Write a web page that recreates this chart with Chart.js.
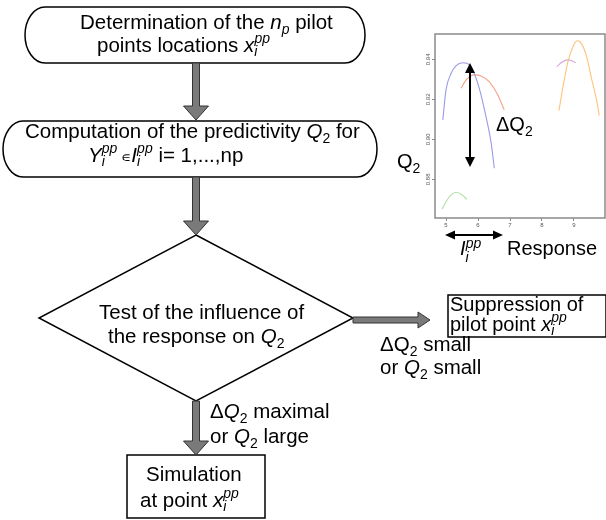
<!DOCTYPE html>
<html><head><meta charset="utf-8">
<script src="https://cdn.jsdelivr.net/npm/chart.js@4.4.0/dist/chart.umd.min.js"></script>
<style>
html,body{margin:0;padding:0;background:#fff;}
#wrap{position:relative;width:606px;height:520px;overflow:hidden;}
#inset{position:absolute;left:405px;top:28px;width:201px;height:205px;}
#flow{position:absolute;left:0;top:0;}
</style></head><body>
<div id="wrap">
<div id="inset"><canvas id="c"></canvas></div>
<svg id="flow" width="606" height="520" font-family="'Liberation Sans', Arial, Helvetica, sans-serif" font-size="20.5" fill="#000">
  <!-- shapes -->
  <path d="M45,7 H345 A20 28 0 0 1 345,63 H45 A20 28 0 0 1 45,7 Z" fill="none" stroke="#000" stroke-width="1.5"/>
  <path d="M23,121 H357 A20 28 0 0 1 357,177 H23 A20 28 0 0 1 23,121 Z" fill="none" stroke="#000" stroke-width="1.5"/>
  <polygon points="196,235 353,318 196,401 39,318" fill="none" stroke="#000" stroke-width="1.5"/>
  <rect x="448" y="295" width="158" height="42" fill="none" stroke="#000" stroke-width="1.5"/>
  <rect x="127" y="455" width="138" height="63" fill="none" stroke="#000" stroke-width="1.5"/>
  <!-- gray arrows -->
  <polygon points="192.5,63 199.5,63 199.5,106 208.5,106 196,120 183.5,106 192.5,106" fill="#7a7a7a" stroke="#333" stroke-width="1"/>
  <polygon points="192.5,177 199.5,177 199.5,221 208.5,221 196,235 183.5,221 192.5,221" fill="#7a7a7a" stroke="#333" stroke-width="1"/>
  <polygon points="353,317 418,317 418,312 430,320 418,328 418,323 353,323" fill="#7a7a7a" stroke="#333" stroke-width="1"/>
  <polygon points="192.5,401 199.5,401 199.5,441 208.5,441 196,455 183.5,441 192.5,441" fill="#7a7a7a" stroke="#333" stroke-width="1"/>
  <!-- inset black arrows -->
  <line x1="470" y1="70" x2="470" y2="160" stroke="#000" stroke-width="2"/>
  <polygon points="470,63 465,73 475,73" fill="#000"/>
  <polygon points="470,167 465,157 475,157" fill="#000"/>
  <line x1="452" y1="235" x2="496" y2="235" stroke="#000" stroke-width="2"/>
  <polygon points="445,235 455,230.5 455,239.5" fill="#000"/>
  <polygon points="503,235 493,230.5 493,239.5" fill="#000"/>
  <!-- texts -->
  <text x="80" y="29">Determination of the <tspan font-style="italic">n</tspan><tspan font-style="italic" font-size="14" dy="5">p</tspan><tspan dy="-5"> pilot</tspan></text>
  <text x="97" y="52">points locations <tspan font-style="italic">x</tspan><tspan font-style="italic" font-size="14" dy="4">i</tspan><tspan font-style="italic" font-size="14" dx="-3" dy="-13">pp</tspan></text>
  <text x="25" y="138">Computation of the predictivity <tspan font-style="italic">Q</tspan><tspan font-size="14" dy="5">2</tspan><tspan dy="-5"> for</tspan></text>
  <text x="88" y="162"><tspan font-style="italic">Y</tspan><tspan font-style="italic" font-size="14" dy="4">i</tspan><tspan font-style="italic" font-size="14" dx="-3" dy="-13">pp</tspan><tspan font-size="14" dy="9"> ∊</tspan><tspan font-style="italic">I</tspan><tspan font-style="italic" font-size="14" dy="4">i</tspan><tspan font-style="italic" font-size="14" dx="-3" dy="-13">pp</tspan><tspan dy="9"> i= 1,...,np</tspan></text>
  <text x="99" y="319">Test of the influence of</text>
  <text x="108" y="343">the response on <tspan font-style="italic">Q</tspan><tspan font-size="14" dy="5">2</tspan></text>
  <text x="450" y="311" font-size="20">Suppression of</text>
  <text x="450" y="331" font-size="20">pilot point <tspan font-style="italic">x</tspan><tspan font-style="italic" font-size="14" dy="4">i</tspan><tspan font-style="italic" font-size="14" dx="-3" dy="-13">pp</tspan></text>
  <text x="380" y="351">ΔQ<tspan font-size="14" dy="5">2</tspan><tspan dy="-5"> small</tspan></text>
  <text x="380" y="374">or <tspan font-style="italic">Q</tspan><tspan font-size="14" dy="5">2</tspan><tspan dy="-5"> small</tspan></text>
  <text x="210" y="418">Δ<tspan font-style="italic">Q</tspan><tspan font-size="14" dy="5">2</tspan><tspan dy="-5"> maximal</tspan></text>
  <text x="210" y="443">or <tspan font-style="italic">Q</tspan><tspan font-size="14" dy="5">2</tspan><tspan dy="-5"> large</tspan></text>
  <text x="146" y="481">Simulation</text>
  <text x="140" y="507">at point <tspan font-style="italic">x</tspan><tspan font-style="italic" font-size="14" dy="4">i</tspan><tspan font-style="italic" font-size="14" dx="-3" dy="-13">pp</tspan></text>
  <text x="397" y="168" font-size="20">Q<tspan font-size="14" dy="5">2</tspan></text>
  <text x="496" y="131" font-size="20">ΔQ<tspan font-size="14" dy="5">2</tspan></text>
  <text x="460" y="255" font-size="20"><tspan font-style="italic">I</tspan><tspan font-style="italic" font-size="14" dy="7">i</tspan><tspan font-style="italic" font-size="14" dx="-3" dy="-14">pp</tspan></text>
  <text x="507" y="255" font-size="20">Response</text>
</svg>
</div>
<script>
// Inset: Q2 versus response for each pilot point
const xTicks = [5, 6, 7, 8, 9];
const yTicks = [0.88, 0.90, 0.92, 0.94];

const blueX  = [4.90, 5.00, 5.16, 5.31, 5.52, 5.65, 5.83, 6.04, 6.25, 6.41, 6.51];
const blueY  = [0.9097, 0.9247, 0.9330, 0.9367, 0.9383, 0.9380, 0.9347, 0.9255, 0.9113, 0.8982, 0.8855];
const redX   = [5.47, 5.63, 5.88, 6.09, 6.35, 6.62, 6.82];
const redY   = [0.9255, 0.9297, 0.9322, 0.9317, 0.9288, 0.9222, 0.9147];
const orangeX = [8.53, 8.67, 8.82, 8.98, 9.10, 9.24, 9.40, 9.55, 9.71, 9.79];
const orangeY = [0.9143, 0.9276, 0.9393, 0.9468, 0.9493, 0.9477, 0.9410, 0.9302, 0.9193, 0.9118];
const pinkX  = [8.46, 8.62, 8.80, 8.93, 9.05];
const pinkY  = [0.9363, 0.9385, 0.9397, 0.9393, 0.9383];
const greenX = [4.88, 5.00, 5.16, 5.33, 5.50, 5.65];
const greenY = [0.8651, 0.8688, 0.8722, 0.8735, 0.8722, 0.8700];

const pts = (xs, ys) => xs.map((x, i) => ({x, y: ys[i]}));
const mk = (xs, ys, color) => ({
  data: pts(xs, ys), borderColor: color, borderWidth: 1.1, pointRadius: 0,
  fill: false, cubicInterpolationMode: 'monotone'
});

const framePlugin = {
  id: 'frame',
  afterDraw(chart) {
    const a = chart.chartArea, ctx = chart.ctx;
    ctx.save();
    ctx.strokeStyle = '#8a8a8a';
    ctx.lineWidth = 1.5;
    ctx.strokeRect(a.left, a.top, a.right - a.left, a.bottom - a.top);
    ctx.restore();
  }
};

new Chart(document.getElementById('c'), {
  type: 'line',
  data: {
    datasets: [
      mk(blueX, blueY, '#9a9ae6'),
      mk(redX, redY, '#f4a086'),
      mk(orangeX, orangeY, '#ffc27a'),
      mk(pinkX, pinkY, '#d9a6dd'),
      mk(greenX, greenY, '#b0e0a2')
    ]
  },
  options: {
    responsive: true, maintainAspectRatio: false, animation: false,
    layout: { padding: { top: 6, right: 1, left: 0, bottom: 0 } },
    plugins: { legend: { display: false }, tooltip: { enabled: false } },
    scales: {
      x: {
        type: 'linear', min: 4.656, max: 9.969,
        afterBuildTicks: s => { s.ticks = xTicks.map(v => ({value: v})); },
        afterFit: s => { s.height = 15; },
        border: { display: false },
        grid: { drawOnChartArea: false, drawTicks: true, tickLength: 3, color: '#8a8a8a' },
        ticks: { font: { size: 6, family: 'Liberation Sans' }, color: '#555', padding: 1, maxRotation: 0 }
      },
      y: {
        type: 'linear', min: 0.86065, max: 0.95265,
        afterBuildTicks: s => { s.ticks = yTicks.map(v => ({value: v})); },
        afterFit: s => { s.width = 30; },
        border: { display: false },
        grid: { drawOnChartArea: false, drawTicks: true, tickLength: 3, color: '#8a8a8a' },
        ticks: { font: { size: 6, family: 'Liberation Sans' }, color: '#555', padding: -2,
                 minRotation: 90, maxRotation: 90, crossAlign: 'center',
                 callback: v => v.toFixed(2) }
      }
    }
  },
  plugins: [framePlugin]
});
</script>
</body></html>
